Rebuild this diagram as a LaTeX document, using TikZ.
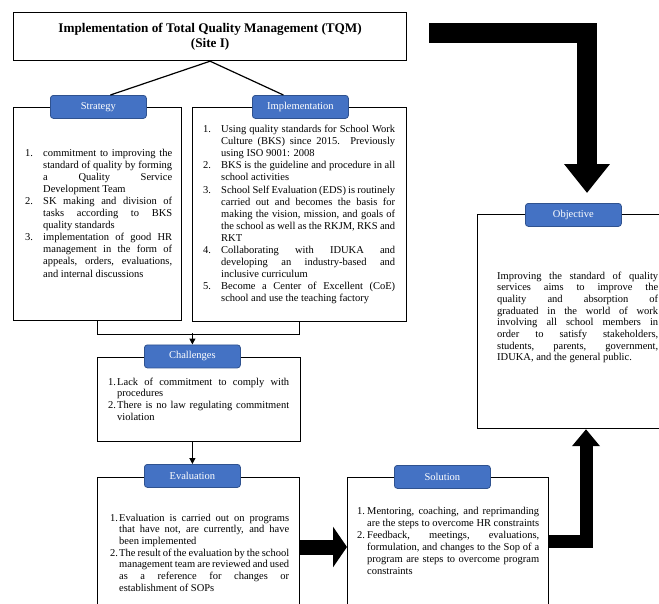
\documentclass[tikz,border=0pt]{standalone}
\usepackage{fontspec}
\setmainfont{Liberation Serif}
\usetikzlibrary{arrows.meta}
\definecolor{lblfill}{RGB}{68,114,196}
\definecolor{lbldraw}{RGB}{47,82,143}
\newenvironment{tqmlist}[2]{%
 \begin{list}{\arabic{enumi}.}{\usecounter{enumi}%
 \setlength{\leftmargin}{#1}\setlength{\labelwidth}{#2}%
 \setlength{\labelsep}{\dimexpr#1-#2\relax}%
 \setlength{\itemsep}{0pt}\setlength{\parsep}{0pt}%
 \setlength{\topsep}{0pt}\setlength{\partopsep}{0pt}%
 \setlength{\itemindent}{0pt}\setlength{\listparindent}{0pt}%
 \setlength{\rightmargin}{0pt}%
 \renewcommand{\makelabel}[1]{##1\hfil}}}%
 {\end{list}}
\tolerance=10000
\hbadness=10000
\begin{document}
\begin{tikzpicture}[x=1pt,y=-1pt,
  box/.style={draw=black, line width=1.2pt, fill=none, inner sep=0pt, anchor=north west},
  lbl/.style={draw=lbldraw, fill=lblfill, line width=0.8pt, rounded corners=3pt, text=white,
     minimum width=96pt, minimum height=23pt, inner sep=0pt, anchor=north west,
     font=\fontsize{10.5}{12}\selectfont},
  txt/.style={inner sep=0pt, anchor=base west},
  conn/.style={draw=black, line width=1.2pt},
  smallarrow/.style={draw=black, line width=1.2pt, -{Triangle[length=6pt,width=6pt]}},
  bigarrow/.style={draw=black, line join=miter}
]
\clip (0,0) rectangle (659,603);
\fill[white] (0,0) rectangle (659,603);

% boxes
\node[box, minimum width=393pt, minimum height=48pt, align=center,
      font=\fontsize{13.2}{15}\selectfont\bfseries] (title) at (13,12)
  {Implementation of Total Quality Management (TQM)\\(Site I)};
\node[box, minimum width=168pt, minimum height=213pt] (strat) at (13,107) {};
\node[box, minimum width=214pt, minimum height=214pt] (impl) at (192,107) {};
\node[box, minimum width=203pt, minimum height=84pt] (chal) at (97,357) {};
\node[box, minimum width=202pt, minimum height=140pt] (eval) at (97,477) {};
\node[box, minimum width=201pt, minimum height=140pt] (sol) at (347,477) {};
\node[box, minimum width=200pt, minimum height=214pt] (obj) at (477,214) {};

% labels
\node[lbl] (stratL) at (50,95) {Strategy};
\node[lbl] (implL) at (252,95) {Implementation};
\node[lbl] (chalL) at (144,344.5) {Challenges};
\node[lbl] (evalL) at (144,464) {Evaluation};
\node[lbl] (solL) at (394,465) {Solution};
\node[lbl] (objL) at (525,203) {Objective};

% texts
\node[txt] (stratT) at (25,156) {\begin{minipage}[t]{147pt}\fontsize{10.5}{12.1}\selectfont
\begin{tqmlist}{18pt}{12pt}
\item commitment to improving the\linebreak standard of quality by forming\linebreak a Quality Service\linebreak Development Team
\item SK making and division of\linebreak tasks according to BKS\linebreak quality standards
\item implementation of good HR\linebreak management in the form of\linebreak appeals, orders, evaluations,\linebreak and internal discussions
\end{tqmlist}\end{minipage}};

\node[txt] (implT) at (203,132.5) {\begin{minipage}[t]{192pt}\fontsize{10.5}{12.1}\selectfont
\begin{tqmlist}{18pt}{12pt}
\item Using quality standards for School Work\linebreak Culture (BKS) since 2015. Previously\linebreak using ISO 9001: 2008
\item BKS is the guideline and procedure in all\linebreak school activities
\item School Self Evaluation (EDS) is routinely\linebreak carried out and becomes the basis for\linebreak making the vision, mission, and goals of\linebreak the school as well as the RKJM, RKS and\linebreak RKT
\item Collaborating with IDUKA and\linebreak developing an industry-based and\linebreak inclusive curriculum
\item Become a Center of Excellent (CoE)\linebreak school and use the teaching factory
\end{tqmlist}\end{minipage}};

\node[txt] (chalT) at (108,385) {\begin{minipage}[t]{181pt}\fontsize{10.5}{11.7}\selectfont
\begin{tqmlist}{9pt}{8pt}
\item Lack of commitment to comply with\linebreak procedures
\item There is no law regulating commitment\linebreak violation
\end{tqmlist}\end{minipage}};

\node[txt] (evalT) at (110,521) {\begin{minipage}[t]{179pt}\fontsize{10.5}{11.7}\selectfont
\begin{tqmlist}{9pt}{8pt}
\item Evaluation is carried out on programs\linebreak that have not, are currently, and have\linebreak been implemented
\item The result of the evaluation by the school\linebreak management team are reviewed and used\linebreak as a reference for changes or\linebreak establishment of SOPs
\end{tqmlist}\end{minipage}};

\node[txt] (solT) at (357,514) {\begin{minipage}[t]{182pt}\fontsize{10.5}{12}\selectfont
\begin{tqmlist}{10pt}{8pt}
\item Mentoring, coaching, and reprimanding\linebreak are the steps to overcome HR constraints
\item Feedback, meetings, evaluations,\linebreak formulation, and changes to the Sop of a\linebreak program are steps to overcome program\linebreak constraints
\end{tqmlist}\end{minipage}};

\node[txt] (objT) at (497,279) {\begin{minipage}[t]{161pt}\fontsize{10.5}{11.7}\selectfont
Improving the standard of quality\linebreak services aims to improve the\linebreak quality and absorption of\linebreak graduated in the world of work\linebreak involving all school members in\linebreak order to satisfy stakeholders,\linebreak students, parents, government,\linebreak IDUKA, and the general public.
\end{minipage}};

% connectors
\draw[conn] (title.south) -- ([xshift=12pt]stratL.north);
\draw[conn] (title.south) -- ([xshift=-17pt]implL.north);
\draw[conn] (strat.south) -- ++(0,13) -| (impl.south);
\draw[smallarrow] (chalL.north |- 0,333) -- (chalL.north);
\draw[smallarrow] (evalL.north |- chal.south) -- (evalL.north);

% big arrows
\coordinate (topstart) at (429,33);
\draw[bigarrow, line width=20pt, -{Triangle[length=29pt,width=44pt]}]
  (topstart) -| ([yshift=10pt]objL.north -| 587,0);
\draw[bigarrow, line width=15pt, -{Triangle[length=14pt,width=40pt]}]
  (eval.east |- 0,547) -- (sol.west |- 0,547);
\draw[bigarrow, line width=13pt, -{Triangle[length=17pt,width=27pt]}]
  (sol.east |- 0,541.5) -| (obj.south -| 586,0);
\end{tikzpicture}
\end{document}
